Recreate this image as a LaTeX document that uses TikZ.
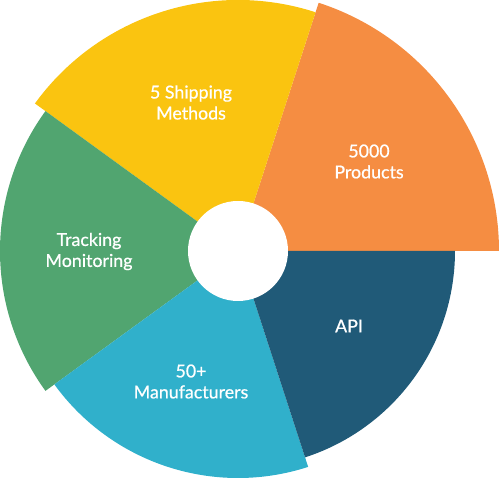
\documentclass[tikz,border=0pt]{standalone}
\usepackage{fontspec}
\setmainfont{Lato}
\newfontfamily\lblfont{Lato}[FakeBold=0.7]
\definecolor{cOrange}{RGB}{245,141,66}
\definecolor{cYellow}{RGB}{250,196,16}
\definecolor{cGreen}{RGB}{81,165,112}
\definecolor{cCyan}{RGB}{48,176,203}
\definecolor{cNavy}{RGB}{32,90,120}
\begin{document}
\begin{tikzpicture}[x=1pt,y=1pt,
  lbl/.style={text=white, align=center, inner sep=0pt, font=\lblfont\fontsize{17.8}{21}\selectfont}]
\useasboundingbox (0,0) rectangle (499,478);
\coordinate (c) at (238,227);
\fill[cOrange] (c) -- ++(0:261) arc (0:72:261) -- cycle;
\fill[cYellow] (c) -- ++(72:251) arc (72:144:251) -- cycle;
\fill[cGreen] (c) -- ++(144:238) arc (144:216:238) -- cycle;
\fill[cCyan] (c) -- ++(216:227) arc (216:288:227) -- cycle;
\fill[cNavy] (c) -- ++(288:217) arc (288:360:217) -- cycle;
\fill[white] (c) circle (50);
\node[lbl] (products) at (369,316.5) {5000\\Products};
\node[lbl] (shipping) at (191,375.5) {5 Shipping\\Methods};
\node[lbl] (tracking) at (89,226.5) {Tracking\\Monitoring};
\node[lbl] (manuf) at (191,96.5) {50+\\Manufacturers};
\node[lbl] (api) at (349,152) {API};
\end{tikzpicture}
\end{document}
